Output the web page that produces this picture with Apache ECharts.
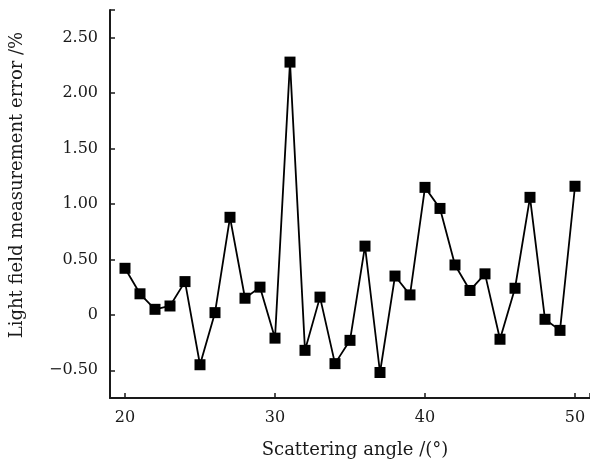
<!DOCTYPE html>
<html>
<head>
<meta charset="utf-8">
<script src="https://cdn.jsdelivr.net/npm/echarts@6/dist/echarts.min.js"></script>
<style>
    html, body { margin: 0; padding: 0; background: #fff; }
    #chart { width: 590px; height: 464px; }
</style>
</head>
<body>
<div id="chart"></div>
<script>
// scattering angle (deg)
const angles = [20, 21, 22, 23, 24, 25, 26, 27, 28, 29, 30, 31, 32, 33, 34, 35,
    36, 37, 38, 39, 40, 41, 42, 43, 44, 45, 46, 47, 48, 49, 50];
// light field measurement error (%)
const errors = [0.42, 0.19, 0.05, 0.08, 0.30, -0.45, 0.02, 0.88, 0.15, 0.25, -0.21, 2.28,
    -0.32, 0.16, -0.44, -0.23, 0.62, -0.52, 0.35, 0.18, 1.15, 0.96, 0.45, 0.22, 0.37,
    -0.22, 0.24, 1.06, -0.04, -0.14, 1.16];

const xTickLabels = [20, 30, 40, 50];
const yTickLabels = [-0.5, 0, 0.5, 1, 1.5, 2, 2.5];

const font = 'DejaVu Serif';
const ink = '#1a1a1a';

const chart = echarts.init(document.getElementById('chart'));
chart.setOption({
    backgroundColor: '#fff',
    animation: false,
    grid: {
        left: 107,
        right: 0,
        top: 10,
        bottom: 65
    },
    xAxis: {
        type: 'value',
        min: 19,
        max: 51,
        name: 'Scattering angle /(°)',
        nameLocation: 'middle',
        nameGap: 43,
        nameTextStyle: { fontFamily: font, fontSize: 18, color: ink, padding: [0, 0, 0, 10] },
        axisLine: { onZero: false, lineStyle: { color: ink, width: 2 } },
        axisTick: {
            inside: true,
            length: 5,
            customValues: xTickLabels.concat([51]),
            lineStyle: { color: ink, width: 1.5 }
        },
        axisLabel: {
            customValues: xTickLabels,
            margin: 12,
            fontFamily: font,
            fontSize: 16,
            color: ink
        },
        splitLine: { show: false }
    },
    yAxis: {
        type: 'value',
        min: -0.75,
        max: 2.75,
        name: 'Light field measurement error /%',
        nameLocation: 'middle',
        nameGap: 84,
        nameTextStyle: { fontFamily: font, fontSize: 18, color: ink, padding: [0, 0, 0, 38] },
        axisLine: { show: true, onZero: false, lineStyle: { color: ink, width: 2 } },
        axisTick: {
            show: true,
            inside: true,
            length: 5,
            customValues: yTickLabels.concat([2.75]),
            lineStyle: { color: ink, width: 1.5 }
        },
        axisLabel: {
            customValues: yTickLabels,
            margin: 12,
            fontFamily: font,
            fontSize: 16,
            color: ink,
            formatter: v => v === 0 ? '0' : (v < 0 ? '\u2212' + Math.abs(v).toFixed(2) : v.toFixed(2))
        },
        splitLine: { show: false }
    },
    series: [
        {
            type: 'line',
            data: angles.map((a, i) => [a, errors[i]]),
            symbol: 'rect',
            symbolSize: 11,
            itemStyle: { color: '#000' },
            lineStyle: { color: '#000', width: 1.8 }
        }
    ]
});
</script>
</body>
</html>
